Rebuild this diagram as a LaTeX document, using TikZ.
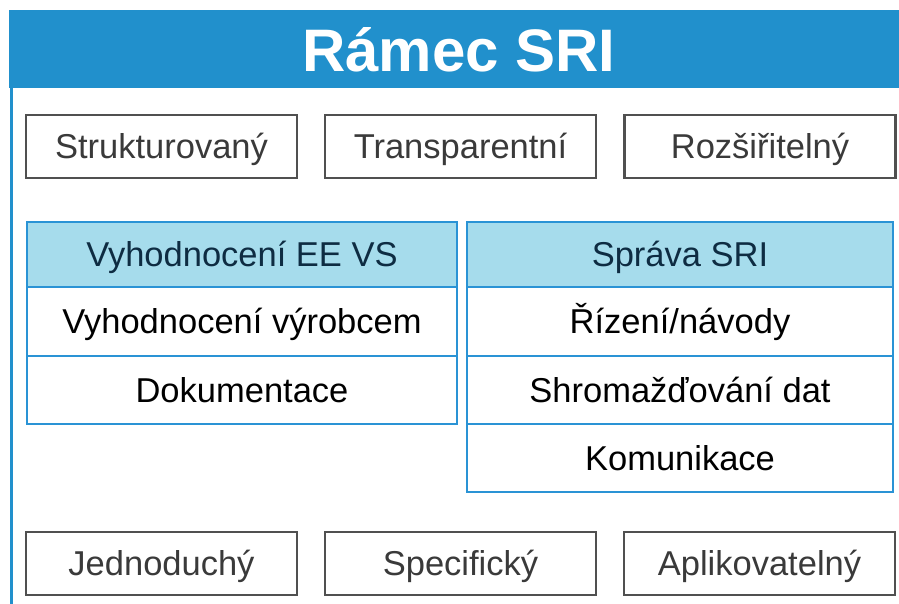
\documentclass[tikz,border=0pt]{standalone}
\usepackage{fontspec}
\setmainfont{Liberation Sans}
\definecolor{band}{HTML}{2190CC}
\definecolor{hdrfill}{HTML}{A6DCEC}
\definecolor{tblue}{HTML}{2A93D5}
\definecolor{gbord}{HTML}{505050}
\definecolor{gtext}{HTML}{3A3A3A}
\definecolor{htext}{HTML}{0E2C42}
\begin{document}
\begin{tikzpicture}[x=1pt,y=-1pt,
  capcenter/.style={text height=24.7pt,text depth=0pt},
  propbox/.style={draw=gbord,line width=2.5pt,fill=white,minimum width=271pt,minimum height=63pt,inner sep=0pt,text=gtext,font=\fontsize{34.5}{40}\selectfont,capcenter},
  hdrcell/.style={draw=tblue,line width=2.5pt,fill=hdrfill,minimum height=65pt,inner sep=0pt,text=htext,font=\fontsize{34.5}{40}\selectfont,capcenter},
  cell/.style={draw=tblue,line width=2.5pt,fill=white,minimum height=68pt,inner sep=0pt,text=black,font=\fontsize{34.5}{40}\selectfont,capcenter},
  titletext/.style={text=white,font=\fontsize{60}{68}\selectfont\bfseries,inner sep=0pt,text height=43pt,text depth=0pt}]
\useasboundingbox (0,0) rectangle (899,604);
\fill[white] (0,0) rectangle (899,604);
% header band and frame
\fill[band] (9,10) rectangle (899,88);
\draw[band,line width=3pt] (11,88) -- (11,604);
\node[titletext] (title) at (459,50) {Rámec SRI};
% top property boxes
\node[propbox] (s1) at (161.5,146.5) {Strukturovaný};
\node[propbox] (s2) at (460.5,146.5) {Transparentní};
\node[propbox] (s3) at (760,146.5) {Rozšiřitelný};
% left table
\node[hdrcell,minimum width=430pt] (lh) at (242,254.5) {Vyhodnocení EE VS};
\node[cell,minimum width=430pt,minimum height=69pt] (l1) at (242,321.5) {Vyhodnocení výrobcem};
\node[cell,minimum width=430pt] (l2) at (242,390) {Dokumentace};
% right table
\node[hdrcell,minimum width=426pt] (rh) at (680,254.5) {Správa SRI};
\node[cell,minimum width=426pt,minimum height=69pt] (r1) at (680,321.5) {Řízení/návody};
\node[cell,minimum width=426pt] (r2) at (680,390) {Shromažďování dat};
\node[cell,minimum width=426pt] (r3) at (680,458) {Komunikace};
% bottom property boxes
\node[propbox] (b1) at (161.5,563.5) {Jednoduchý};
\node[propbox] (b2) at (460.5,563.5) {Specifický};
\node[propbox] (b3) at (759.5,563.5) {Aplikovatelný};
\end{tikzpicture}
\end{document}
